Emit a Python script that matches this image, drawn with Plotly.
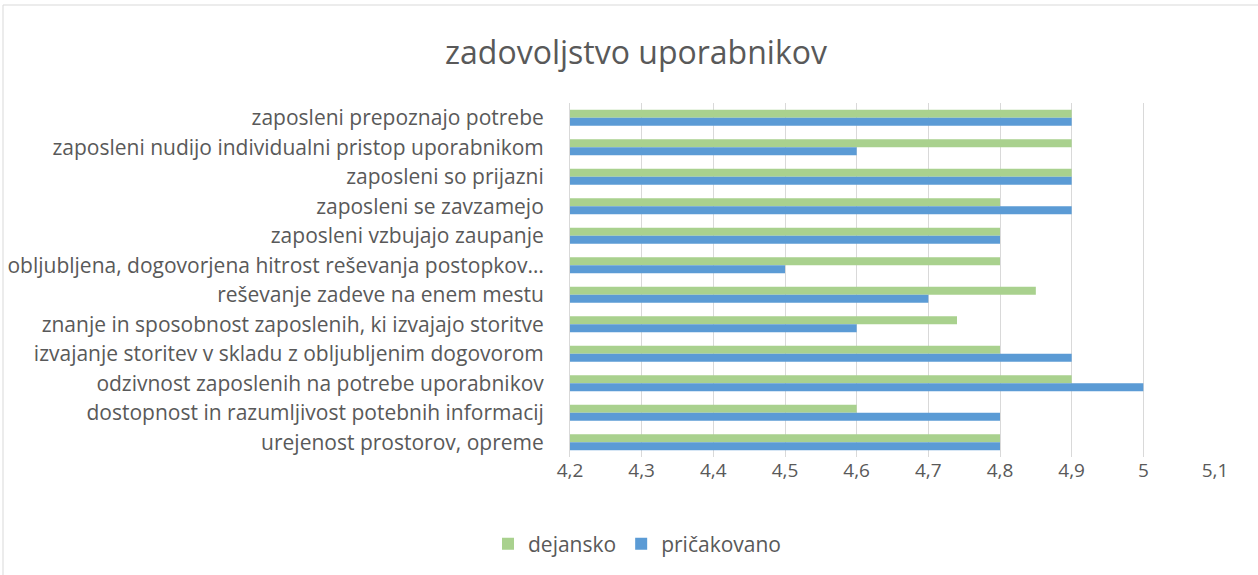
import plotly.graph_objects as go

categories = [
    "zaposleni prepoznajo potrebe",
    "zaposleni nudijo individualni pristop uporabnikom",
    "zaposleni so prijazni",
    "zaposleni se zavzamejo",
    "zaposleni vzbujajo zaupanje",
    "obljubljena, dogovorjena hitrost reševanja postopkov…",
    "reševanje zadeve na enem mestu",
    "znanje in sposobnost zaposlenih, ki izvajajo storitve",
    "izvajanje storitev v skladu z obljubljenim dogovorom",
    "odzivnost zaposlenih na potrebe uporabnikov",
    "dostopnost in razumljivost potebnih informacij",
    "urejenost prostorov, opreme",
]
dejansko = [4.9, 4.9, 4.9, 4.8, 4.8, 4.8, 4.85, 4.74, 4.8, 4.9, 4.6, 4.8]
pricakovano = [4.9, 4.6, 4.9, 4.9, 4.8, 4.5, 4.7, 4.6, 4.9, 5.0, 4.8, 4.8]
tick_vals = [4.2, 4.3, 4.4, 4.5, 4.6, 4.7, 4.8, 4.9, 5.0, 5.1]
tick_text = ["4,2", "4,3", "4,4", "4,5", "4,6", "4,7", "4,8", "4,9", "5", "5,1"]

FONT = "Open Sans"
GREY = "#595959"

fig = go.Figure()
fig.add_trace(go.Bar(y=categories, x=dejansko, name="dejansko", orientation="h",
                     marker=dict(color="#A9D18E", line=dict(width=0)), base=0))
fig.add_trace(go.Bar(y=categories, x=pricakovano, name="pričakovano", orientation="h",
                     marker=dict(color="#5B9BD5", line=dict(width=0)), base=0))

W, H = 1258, 575
L, R, T, B = 570, 43, 103, 118
pw, ph = W - L - R, H - T - B

fig.update_layout(
    width=W, height=H,
    margin=dict(l=L, r=R, t=T, b=B, autoexpand=False),
    barmode="group", bargap=0.45, bargroupgap=0,
    plot_bgcolor="white", paper_bgcolor="white",
    font=dict(family=FONT, color=GREY, size=20),
    title=dict(text="zadovoljstvo uporabnikov", x=636 / W, xanchor="center",
               y=1 - 53 / H, yanchor="middle",
               font=dict(size=32, color=GREY, family=FONT)),
    xaxis=dict(range=[4.2, 5.1], tickvals=tick_vals, ticktext=tick_text,
               showgrid=True, gridcolor="#D9D9D9", gridwidth=1,
               zeroline=False, showline=False, ticks="",
               ticklabelstandoff=0,
               tickfont=dict(size=19, color=GREY)),
    yaxis=dict(autorange="reversed", showgrid=False, showline=True,
               linecolor="#D9D9D9", linewidth=1, ticks="", ticklabelstandoff=21,
               tickfont=dict(size=21, color=GREY)),
    legend=dict(orientation="h", x=(637 - L) / pw, xanchor="center",
                y=-(544 - (T + ph)) / ph, yanchor="middle",
                font=dict(size=21, color=GREY), itemwidth=30, traceorder="normal"),
    showlegend=True,
)

fig.add_shape(type="rect", xref="paper", yref="paper",
              x0=(3 - L) / pw, x1=(W + 5 - L) / pw,
              y0=-(H + 5 - (T + ph)) / ph, y1=1 + (T - 5) / ph,
              line=dict(color="#D9D9D9", width=1), fillcolor="rgba(0,0,0,0)",
              layer="below")

fig.write_html("out.html", config={"displayModeBar": False},
               post_script="document.body.style.margin='0';")
